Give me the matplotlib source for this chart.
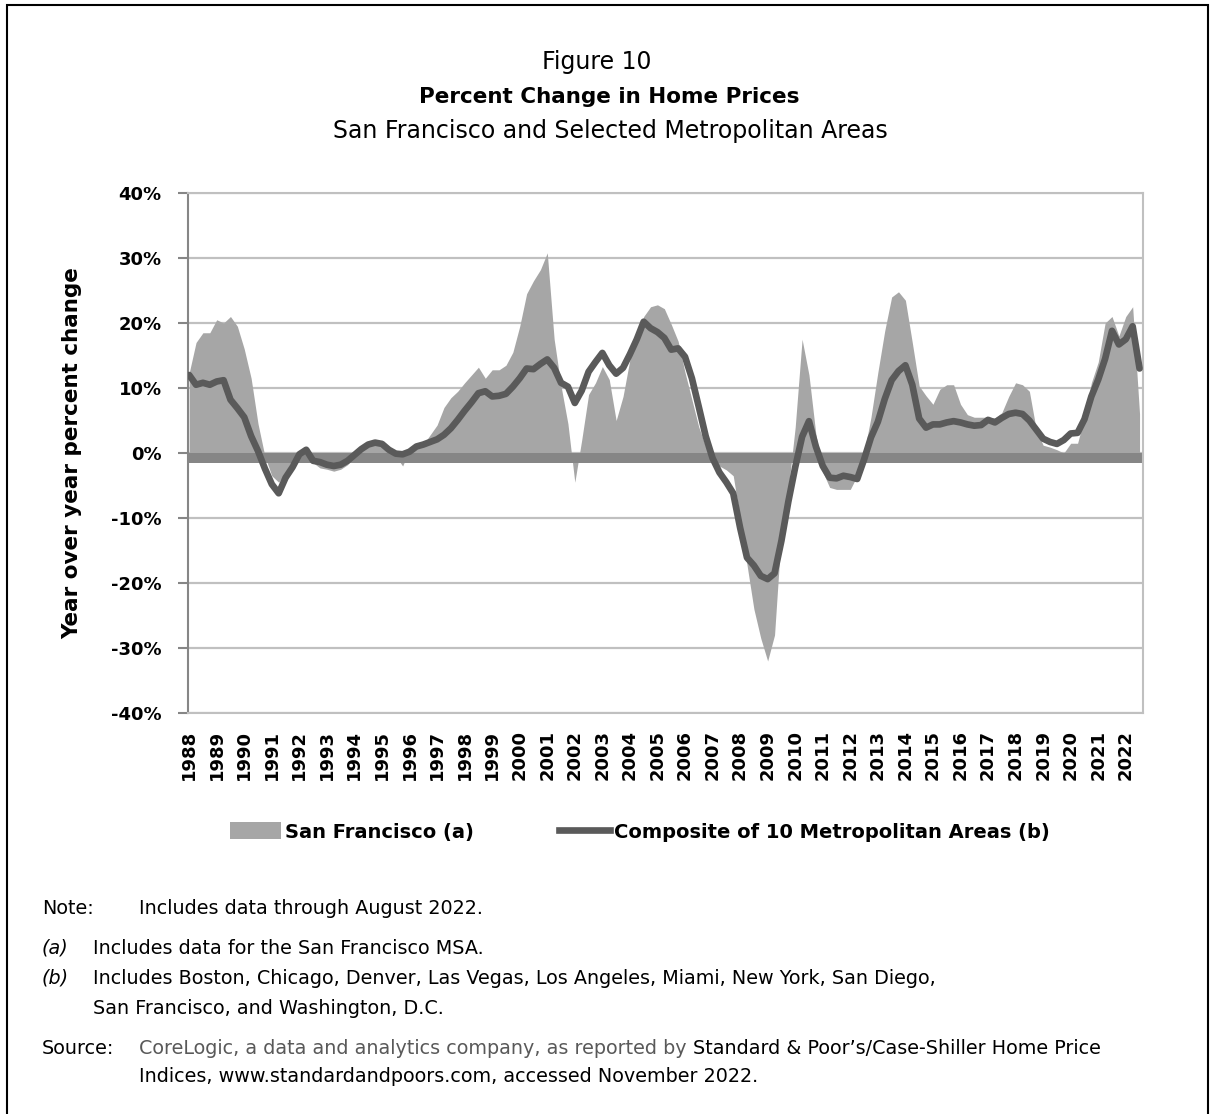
import numpy as np
import pandas as pd
import matplotlib.pyplot as plt
from matplotlib.patches import Rectangle, Patch
from matplotlib.lines import Line2D

sf_change = [
    12.3, 17.0, 18.5, 18.5,     # 1988
    20.5, 20.0, 21.0, 19.5,     # 1989
    16.0, 11.5, 4.5, -0.5,      # 1990
    -3.5, -4.5, -3.0, -1.0,     # 1991
    0.3, 0.2, -1.5, -2.3,       # 1992
    -2.5, -2.8, -2.5, -1.8,     # 1993
    -0.5, 0.8, 1.5, 2.0,        # 1994
    1.8, 0.3, -0.5, -2.0,       # 1995
    0.5, 1.2, 1.3, 2.8,         # 1996
    4.3, 7.0, 8.5, 9.5,         # 1997
    10.8, 12.0, 13.2, 11.5,     # 1998
    12.8, 12.8, 13.5, 15.5,     # 1999
    19.5, 24.5, 26.5, 28.2,     # 2000
    30.8, 17.5, 10.3, 4.5,      # 2001
    -4.5, 2.0, 9.0, 10.8,       # 2002
    13.3, 11.3, 5.0, 8.7,       # 2003
    14.4, 18.0, 21.0, 22.5,     # 2004
    22.8, 22.2, 19.8, 17.2,     # 2005
    12.4, 8.2, 4.0, 1.0,        # 2006
    -1.3, -2.0, -2.6, -3.5,     # 2007
    -10.0, -17.2, -24.0, -28.5, # 2008
    -32.0, -28.0, -12.0, -5.6,  # 2009
    4.0, 17.5, 12.0, 2.9,       # 2010
    -2.9, -5.3, -5.6, -5.6,     # 2011
    -5.6, -3.5, 0.0, 5.5,       # 2012
    12.4, 18.8, 24.0, 24.8,     # 2013
    23.5, 17.0, 10.3, 8.8,      # 2014
    7.5, 9.8, 10.5, 10.5,       # 2015
    7.5, 5.9, 5.5, 5.5,         # 2016
    5.5, 5.4, 6.2, 8.7,         # 2017
    10.8, 10.5, 9.5, 3.6,       # 2018
    1.2, 0.9, 0.5, 0.0,         # 2019
    1.5, 1.5, 5.5, 10.8,        # 2020
    14.0, 20.0, 21.0, 18.0,     # 2021
    21.0, 22.5, 6.0,            # 2022
]

composite_change = [
    12.0, 10.5, 10.8, 10.5,     # 1988
    11.0, 11.2, 8.2, 6.9,       # 1989
    5.5, 2.6, 0.3, -2.4,        # 1990
    -4.8, -6.2, -3.8, -2.2,     # 1991
    -0.2, 0.5, -1.2, -1.4,      # 1992
    -1.8, -2.0, -1.8, -1.2,     # 1993
    -0.3, 0.6, 1.3, 1.6,        # 1994
    1.4, 0.5, -0.1, -0.2,       # 1995
    0.2, 1.0, 1.3, 1.7,         # 1996
    2.1, 2.8, 3.8, 5.1,         # 1997
    6.5, 7.8, 9.2, 9.5,         # 1998
    8.7, 8.8, 9.1, 10.2,        # 1999
    11.5, 13.0, 12.9, 13.7,     # 2000
    14.4, 13.1, 10.8, 10.2,     # 2001
    7.7, 9.6, 12.5, 14.0,       # 2002
    15.4, 13.5, 12.2, 13.1,     # 2003
    15.2, 17.5, 20.2, 19.2,     # 2004
    18.6, 17.7, 15.9, 16.1,     # 2005
    14.8, 11.5, 7.1, 2.6,       # 2006
    -0.8, -3.0, -4.5, -6.2,     # 2007
    -11.5, -16.1, -17.3, -18.9, # 2008
    -19.4, -18.5, -13.5, -7.5,  # 2009
    -2.2, 2.5, 4.9, 1.0,        # 2010
    -2.0, -3.8, -3.9, -3.5,     # 2011
    -3.7, -4.0, -1.0, 2.4,      # 2012
    4.8, 8.3, 11.2, 12.6,       # 2013
    13.5, 10.5, 5.3, 3.9,       # 2014
    4.4, 4.4, 4.7, 4.9,         # 2015
    4.7, 4.4, 4.2, 4.3,         # 2016
    5.1, 4.7, 5.4, 6.0,         # 2017
    6.2, 6.0, 5.0, 3.6,         # 2018
    2.2, 1.7, 1.4, 2.0,         # 2019
    3.0, 3.1, 5.2, 8.7,         # 2020
    11.3, 14.5, 18.8, 16.7,     # 2021
    17.5, 19.5, 13.0,           # 2022
]

years = list(range(1988, 2023))
year_labels = [str(y) for y in years]
y_ticks = [-40, -30, -20, -10, 0, 10, 20, 30, 40]

# month index of each reading (data runs Jan 1988 .. Aug 2022 -> 416 monthly slots)
dates = pd.date_range('1988-01-01', periods=len(sf_change), freq='QS')
months = np.array((dates.year - 1988) * 12 + dates.month - 1)
n_months = 416

fig = plt.figure(figsize=(12.12, 11.14), dpi=100)
ax = fig.add_axes([188 / 1212, 1 - 713 / 1114, 955 / 1212, 520 / 1114])

# San Francisco area + composite line
ax.fill_between(months, sf_change, 0, color='#a6a6a6', linewidth=0, zorder=1)
ax.axhline(-0.7, color='#868686', linewidth=7.2, zorder=2)
ax.plot(months, composite_change, color='#5a5a5a', linewidth=4.8,
        solid_capstyle='round', solid_joinstyle='round', zorder=3)

ax.set_xlim(-0.5, n_months - 0.5)
ax.set_ylim(-40, 40)
ax.set_yticks(y_ticks)
ax.set_yticklabels([f'{v}%' for v in y_ticks], fontsize=13, fontweight='bold')
ax.set_xticks([(y - 1988) * 12 for y in years])
ax.set_xticklabels(year_labels, rotation=90, fontsize=13, fontweight='bold')
ax.tick_params(axis='x', length=0, pad=12)
ax.tick_params(axis='y', length=7, width=1.5, color='#868686', pad=12)

ax.grid(axis='y', color='#c0c0c0', linewidth=1.6, zorder=0)
ax.set_axisbelow(True)
for side in ['top', 'right', 'bottom']:
    ax.spines[side].set_color('#c0c0c0')
    ax.spines[side].set_linewidth(1.5)
ax.spines['left'].set_color('#868686')
ax.spines['left'].set_linewidth(1.5)

ax.set_ylabel('Year over year percent change', fontsize=15.5, fontweight='bold')
ax.yaxis.set_label_coords(-0.111, 0.5)

# titles
fig.text(0.492, 1 - 62 / 1114, 'Figure 10', ha='center', va='center', fontsize=17)
fig.text(0.503, 1 - 97 / 1114, 'Percent Change in Home Prices', ha='center', va='center',
         fontsize=15.5, fontweight='bold')
fig.text(0.504, 1 - 131 / 1114, 'San Francisco and Selected Metropolitan Areas',
         ha='center', va='center', fontsize=17)

# legend
handles = [Patch(facecolor='#a6a6a6', edgecolor='none'),
           Line2D([], [], color='#5a5a5a', linewidth=4.8)]
fig.legend(handles, ['San Francisco (a)', 'Composite of 10 Metropolitan Areas (b)'],
           loc='center', bbox_to_anchor=(640 / 1212, 1 - 832 / 1114), ncol=2,
           frameon=False, prop={'size': 14, 'weight': 'bold'},
           handlelength=2.6, handleheight=0.95, handletextpad=0.2, columnspacing=4.4)

# notes
fs = 13.8
fig.text(42 / 1212, 1 - 908 / 1114, 'Note:', va='center', fontsize=fs)
fig.text(139 / 1212, 1 - 908 / 1114, 'Includes data through August 2022.', va='center', fontsize=fs)
fig.text(42 / 1212, 1 - 948 / 1114, '(a)', va='center', fontsize=fs, style='italic')
fig.text(93 / 1212, 1 - 948 / 1114, 'Includes data for the San Francisco MSA.', va='center', fontsize=fs)
fig.text(42 / 1212, 1 - 978 / 1114, '(b)', va='center', fontsize=fs, style='italic')
fig.text(93 / 1212, 1 - 978 / 1114,
         'Includes Boston, Chicago, Denver, Las Vegas, Los Angeles, Miami, New York, San Diego,',
         va='center', fontsize=fs)
fig.text(93 / 1212, 1 - 1008 / 1114, 'San Francisco, and Washington, D.C.', va='center', fontsize=fs)
fig.text(42 / 1212, 1 - 1048 / 1114, 'Source:', va='center', fontsize=fs)
src1 = fig.text(139 / 1212, 1 - 1048 / 1114,
                'CoreLogic, a data and analytics company, as reported by ',
                va='center', fontsize=fs, color='#595959')
ax.annotate('Standard & Poor\u2019s/Case-Shiller Home Price', xy=(1, 0), xycoords=src1,
            va='bottom', ha='left', fontsize=fs, annotation_clip=False)
fig.text(139 / 1212, 1 - 1077 / 1114,
         'Indices, www.standardandpoors.com, accessed November 2022.', va='center', fontsize=fs)

# outer frame
fig.patches.append(Rectangle((0.0055, -0.01), 0.991, 1.0055, transform=fig.transFigure,
                             fill=False, edgecolor='black', linewidth=1.5))

plt.savefig('out.png', dpi=100)
